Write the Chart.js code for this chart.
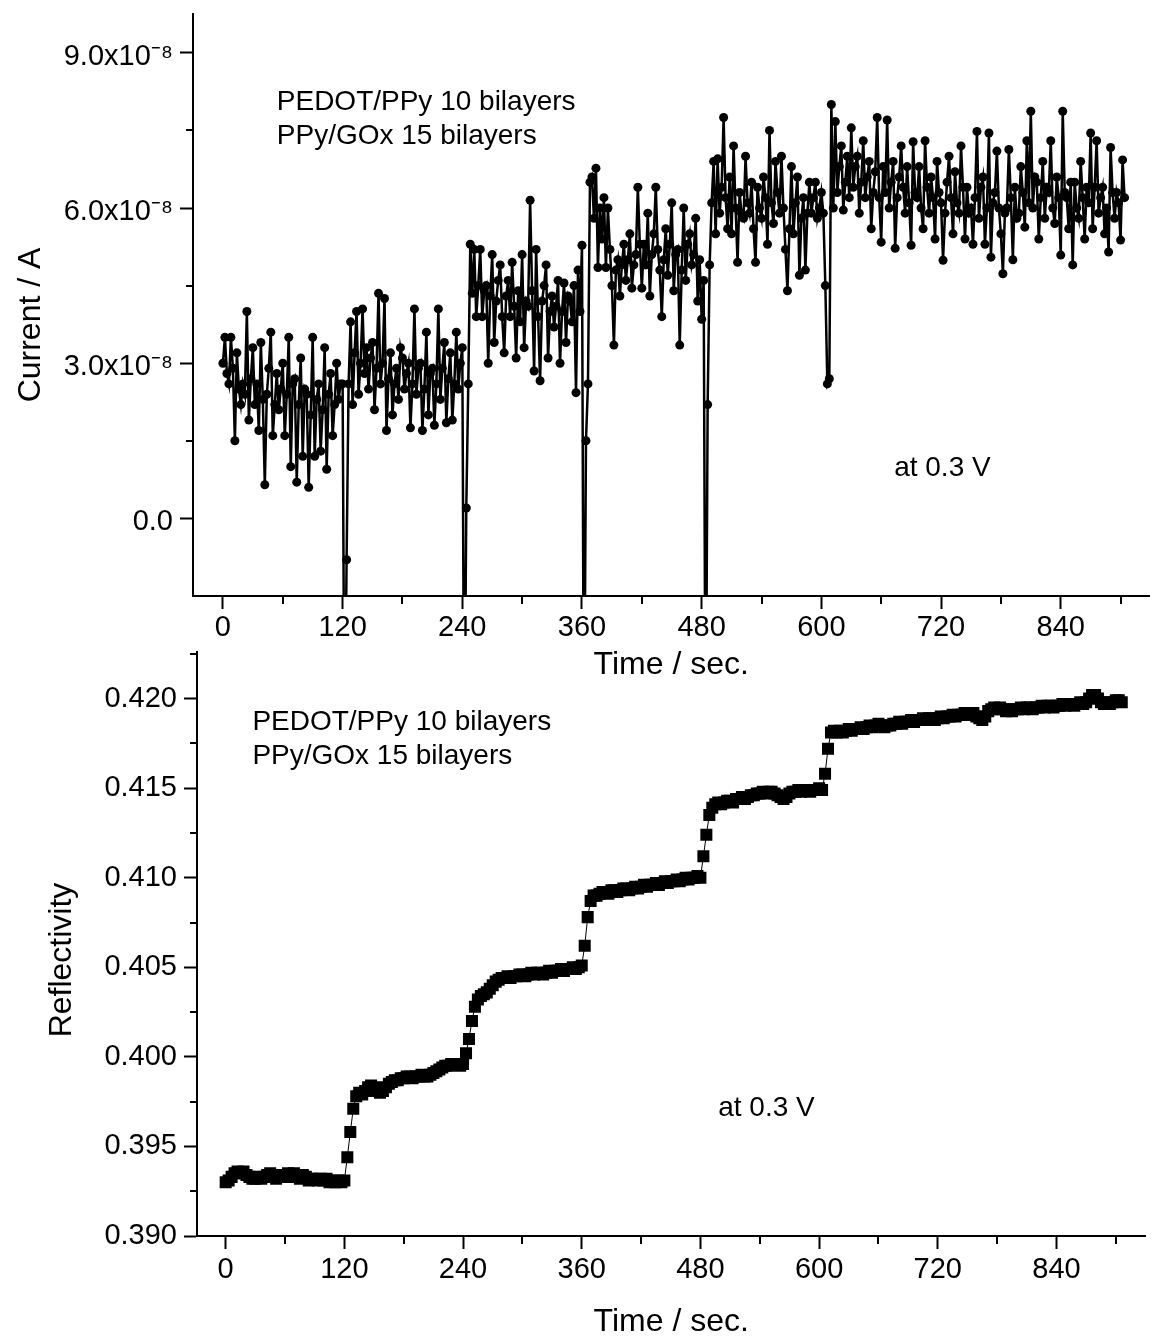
<!DOCTYPE html>
<html lang="en">
<head>
<meta charset="UTF-8">
<title>Current and reflectivity vs time</title>
<style>
body { margin: 0; background: #fff; }
#wrap { position: relative; width: 1154px; height: 1338px; overflow: hidden; }
#wrap canvas { position: absolute; left: 0; }
#currentChart { top: 0; }
#reflChart { top: 640px; }
</style>
</head>
<body>
<div id="wrap">
  <canvas id="currentChart" width="1154" height="700"></canvas>
  <canvas id="reflChart" width="1154" height="698"></canvas>
</div>
<script src="https://cdn.jsdelivr.net/npm/chart.js@4"></script>
<script>
const FONT = '"Liberation Sans", Arial, Helvetica, sans-serif';
const CURRENT_STEP = 2; // s between current readings, first at t = 0
const REFL_STEP = 3;    // s between reflectivity readings, first at t = 0

// current at 0.3 V, in units of 1e-8 A (one row = 30 s)
const currentE8 = [
  3.0, 3.5, 2.8, 2.6, 3.5, 2.9, 1.5, 3.2, 2.5, 2.2, 2.6, 2.4, 4.0, 1.9, 2.7,          // 0 s
  3.3, 2.2, 2.6, 1.7, 3.4, 2.3, 0.65, 2.4, 2.9, 3.6, 1.6, 2.2, 2.8, 2.1, 2.5,         // 30
  3.0, 1.6, 2.4, 3.5, 1.0, 2.6, 2.7, 0.7, 2.2, 3.1, 1.2, 2.5, 2.4, 0.6, 2.0,          // 60
  3.5, 1.2, 2.3, 2.6, 1.3, 2.1, 3.3, 0.95, 2.4, 2.8, 1.6, 2.2, 3.0, 2.3, 2.6,         // 90
  2.6, -5, -0.8, 2.6, 3.8, 2.2, 3.2, 4.0, 2.4, 3.0, 4.05, 2.8, 3.3, 2.5, 3.1,         // 120
  3.4, 2.1, 2.9, 4.35, 2.6, 3.0, 4.25, 1.7, 2.7, 3.2, 2.0, 2.6, 2.9, 2.3, 3.3,        // 150
  3.1, 2.5, 2.8, 3.0, 1.75, 2.6, 4.05, 2.4, 2.9, 3.0, 1.7, 2.5, 3.6, 2.0, 2.8,        // 180
  2.9, 1.8, 2.6, 4.05, 2.3, 2.9, 3.4, 1.85, 2.7, 3.2, 1.9, 2.6, 3.6, 2.5, 3.0,        // 210
  3.3, -5, 0.2, 2.6, 5.3, 4.35, 5.2, 3.9, 4.5, 5.2, 3.9, 4.4, 4.5, 3.0, 4.3,          // 240
  5.1, 3.4, 4.2, 4.6, 4.9, 3.9, 3.2, 4.3, 4.6, 3.9, 4.95, 4.1, 3.1, 4.4, 3.8,        // 270
  5.1, 3.3, 4.2, 4.1, 6.15, 4.4, 2.85, 5.2, 3.9, 2.66, 4.2, 4.5, 4.9, 3.1, 4.0,      // 300
  4.3, 3.7, 4.1, 4.6, 3.0, 4.0, 4.55, 3.4, 4.3, 4.2, 3.8, 4.5, 2.43, 4.8, 4.0,       // 330
  5.28, -5, 1.5, 2.6, 6.5, 6.6, 5.8, 6.77, 4.85, 6.0, 5.4, 6.2, 4.85, 6.0, 5.2,      // 360
  4.5, 3.35, 4.8, 5.0, 4.3, 4.9, 5.3, 4.6, 5.0, 5.5, 4.45, 4.9, 5.1, 6.4, 5.3,       // 390
  4.45, 5.3, 4.9, 5.9, 4.3, 5.1, 5.5, 6.4, 5.2, 4.8, 3.9, 5.0, 5.6, 4.7, 5.3,        // 420
  6.1, 4.4, 5.1, 5.2, 3.35, 4.8, 6.0, 4.6, 5.3, 5.5, 4.9, 5.1, 5.8, 4.2, 5.0,        // 450
  3.85, 4.6, -5, 2.2, 4.9, 6.1, 6.9, 5.5, 6.95, 5.9, 6.4, 7.75, 6.2, 5.6, 6.6,       // 480
  5.5, 7.2, 6.0, 4.95, 6.3, 5.9, 5.8, 7.0, 6.1, 5.9, 6.5, 5.6, 4.95, 6.4, 6.0,       // 510
  5.8, 6.6, 6.2, 5.3, 7.5, 6.1, 5.7, 6.9, 6.3, 5.9, 7.0, 6.0, 5.2, 4.4, 5.6,         // 540
  6.8, 5.5, 6.1, 6.6, 4.7, 5.8, 6.2, 4.8, 5.9, 6.5, 5.9, 6.2, 6.5, 5.8, 6.0,         // 570
  6.3, 5.9, 4.5, 2.6, 2.7, 8.0, 6.0, 7.67, 6.3, 6.8, 7.2, 5.96, 6.5, 7.0, 6.2,       // 600
  7.55, 6.4, 6.8, 7.0, 5.9, 6.5, 7.3, 6.2, 6.6, 6.9, 5.6, 6.3, 6.7, 7.75, 6.2,       // 630
  5.34, 6.8, 6.3, 7.7, 6.0, 6.5, 6.9, 5.22, 6.2, 6.6, 7.2, 6.4, 5.9, 6.8, 6.1,       // 660
  5.28, 7.28, 6.3, 6.2, 6.8, 6.0, 5.6, 7.3, 6.4, 5.9, 6.6, 6.2, 5.4, 6.9, 6.3,       // 690
  6.1, 4.99, 5.9, 6.5, 7.0, 6.2, 5.5, 6.7, 6.1, 5.9, 7.2, 6.4, 5.4, 6.4, 5.9,        // 720
  6.0, 5.3, 6.2, 7.48, 5.8, 6.4, 6.6, 5.3, 6.0, 7.45, 5.05, 6.1, 6.3, 7.1, 6.0,      // 750
  5.5, 4.73, 5.9, 6.0, 7.13, 6.2, 5.0, 6.4, 5.8, 5.9, 6.8, 6.3, 5.63, 7.3, 6.1,      // 780
  7.87, 6.0, 6.6, 6.5, 5.4, 6.2, 6.9, 5.8, 6.4, 6.3, 7.3, 6.0, 5.7, 6.6, 6.2,        // 810
  5.09, 7.87, 6.3, 6.2, 5.6, 6.5, 4.9, 6.5, 6.0, 5.8, 6.9, 6.2, 5.4, 6.4, 6.1,       // 840
  7.45, 5.6, 6.4, 7.3, 5.9, 6.2, 6.4, 5.5, 6.0, 5.15, 7.17, 6.3, 5.8, 6.3, 6.1,      // 870
  5.38, 6.93, 6.2                                                                    // 900
];

// reflectivity (one row = 30 s)
const reflectivity = [
  0.3930, 0.3931, 0.3933, 0.3935, 0.3936, 0.3935, 0.3936, 0.3934, 0.3933, 0.3932, // 0 s
  0.3932, 0.3933, 0.3932, 0.3933, 0.3934, 0.3935, 0.3934, 0.3932, 0.3933, 0.3934, // 30
  0.3933, 0.3935, 0.3934, 0.3935, 0.3933, 0.3932, 0.3934, 0.3933, 0.3931, 0.3932, // 60
  0.3932, 0.3931, 0.3932, 0.3931, 0.3932, 0.3930, 0.3931, 0.3930, 0.3931, 0.3930, // 90
  0.3931, 0.3944, 0.3958, 0.3971, 0.3978, 0.3980, 0.3979, 0.3981, 0.3983, 0.3984, // 120
  0.3983, 0.3981, 0.3980, 0.3981, 0.3983, 0.3985, 0.3986, 0.3987, 0.3987, 0.3988, // 150
  0.3988, 0.3989, 0.3989, 0.3988, 0.3989, 0.3989, 0.3990, 0.3989, 0.3989, 0.3990, // 180
  0.3991, 0.3992, 0.3993, 0.3994, 0.3995, 0.3995, 0.3996, 0.3996, 0.3996, 0.3995, // 210
  0.3996, 0.4002, 0.4010, 0.4020, 0.4028, 0.4032, 0.4034, 0.4035, 0.4036, 0.4038, // 240
  0.4040, 0.4042, 0.4043, 0.4044, 0.4044, 0.4045, 0.4044, 0.4045, 0.4045, 0.4046, // 270
  0.4046, 0.4045, 0.4046, 0.4047, 0.4046, 0.4047, 0.4047, 0.4046, 0.4047, 0.4048, // 300
  0.4047, 0.4048, 0.4048, 0.4049, 0.4048, 0.4049, 0.4049, 0.4050, 0.4049, 0.4050, // 330
  0.4051, 0.4062, 0.4078, 0.4087, 0.4090, 0.4090, 0.4091, 0.4092, 0.4092, 0.4091, // 360
  0.4093, 0.4093, 0.4092, 0.4093, 0.4094, 0.4094, 0.4093, 0.4094, 0.4095, 0.4094, // 390
  0.4095, 0.4096, 0.4095, 0.4096, 0.4096, 0.4097, 0.4096, 0.4097, 0.4098, 0.4097, // 420
  0.4098, 0.4098, 0.4099, 0.4098, 0.4099, 0.4100, 0.4099, 0.4100, 0.4100, 0.4101, // 450
  0.4100, 0.4112, 0.4124, 0.4135, 0.4139, 0.4141, 0.4142, 0.4141, 0.4142, 0.4143, // 480
  0.4143, 0.4142, 0.4144, 0.4144, 0.4145, 0.4144, 0.4145, 0.4146, 0.4146, 0.4147, // 510
  0.4147, 0.4148, 0.4147, 0.4148, 0.4148, 0.4147, 0.4146, 0.4145, 0.4144, 0.4145, // 540
  0.4147, 0.4148, 0.4148, 0.4149, 0.4148, 0.4149, 0.4149, 0.4148, 0.4149, 0.4149, // 570
  0.4150, 0.4149, 0.4158, 0.4172, 0.4181, 0.4182, 0.4181, 0.4182, 0.4181, 0.4182, // 600
  0.4183, 0.4182, 0.4183, 0.4183, 0.4184, 0.4183, 0.4184, 0.4185, 0.4184, 0.4185, // 630
  0.4186, 0.4185, 0.4184, 0.4185, 0.4185, 0.4186, 0.4186, 0.4187, 0.4186, 0.4187, // 660
  0.4187, 0.4188, 0.4187, 0.4188, 0.4188, 0.4189, 0.4188, 0.4189, 0.4189, 0.4188, // 690
  0.4189, 0.4190, 0.4189, 0.4190, 0.4190, 0.4191, 0.4190, 0.4191, 0.4191, 0.4192, // 720
  0.4191, 0.4191, 0.4192, 0.4190, 0.4189, 0.4188, 0.4190, 0.4193, 0.4194, 0.4195, // 750
  0.4194, 0.4195, 0.4194, 0.4193, 0.4194, 0.4193, 0.4194, 0.4194, 0.4195, 0.4194, // 780
  0.4195, 0.4195, 0.4194, 0.4195, 0.4195, 0.4196, 0.4195, 0.4196, 0.4196, 0.4195, // 810
  0.4196, 0.4196, 0.4197, 0.4196, 0.4197, 0.4197, 0.4196, 0.4197, 0.4198, 0.4197, // 840
  0.4198, 0.4200, 0.4202, 0.4202, 0.4200, 0.4198, 0.4197, 0.4198, 0.4197, 0.4198, // 870
  0.4199, 0.4199, 0.4198                                                          // 900
];

const timeTickEvery = 60;        // minor ticks
const timeLabelEvery = 120;      // labelled ticks
const currentLabelEvery = 3;     // x 1e-8 A, minor every 1.5
const noteTop = ['PEDOT/PPy 10 bilayers', 'PPy/GOx 15 bilayers'];
const noteVoltage = ['at 0.3 V'];

function timeLabel(v) {
    return v % timeLabelEvery === 0 ? String(v) : '';
}
function currentLabel(v) {
    if (Math.abs(v % currentLabelEvery) > 1e-9) return '';
    return v === 0 ? '0.0' : v.toFixed(1) + 'x10\u207B\u2078';
}
function reflLabel(v) {
    return Math.round(v * 10000) % 50 === 0 ? v.toFixed(3) : '';
}

// minor ticks, notes and axis titles
function extras(cfg) {
    return {
        id: 'extras',
        afterDraw(chart) {
            const ctx = chart.ctx;
            const area = chart.chartArea;
            const xs = chart.scales.x, ys = chart.scales.y;
            ctx.save();
            ctx.strokeStyle = '#000';
            ctx.lineWidth = 2;
            ctx.beginPath();
            xs.ticks.forEach(t => {
                if (cfg.xLabel(t.value) !== '') return;
                const px = Math.round(xs.getPixelForValue(t.value));
                ctx.moveTo(px, area.bottom);
                ctx.lineTo(px, area.bottom + 8);
            });
            ys.ticks.forEach(t => {
                if (cfg.yLabel(t.value) !== '') return;
                const py = Math.round(ys.getPixelForValue(t.value));
                if (py > area.bottom - 2 || py < area.top + 2) return;
                ctx.moveTo(area.left, py);
                ctx.lineTo(area.left - 7, py);
            });
            ctx.stroke();

            ctx.fillStyle = '#000';
            ctx.font = '28px ' + FONT;
            ctx.textAlign = 'left';
            ctx.textBaseline = 'middle';
            cfg.notes.forEach(n => {
                const x0 = xs.getPixelForValue(n.x);
                const y0 = ys.getPixelForValue(n.y);
                n.lines.forEach((line, k) => ctx.fillText(line, x0, y0 + k * 34));
            });

            ctx.font = '32px ' + FONT;
            ctx.textAlign = 'center';
            ctx.fillText(cfg.xTitle, (area.left + area.right) / 2, area.bottom + cfg.xTitleGap);
            ctx.translate(cfg.yTitleX, (area.top + area.bottom) / 2 + cfg.yTitleShift);
            ctx.rotate(-Math.PI / 2);
            ctx.fillText(cfg.yTitle, 0, 0);
            ctx.restore();
        }
    };
}

function axes(c) {
    return {
        x: {
            type: 'linear', min: c.xMin, max: c.xMax,
            border: { color: '#000', width: 2 },
            grid: {
                drawOnChartArea: false, tickLength: 13, tickWidth: 2,
                tickColor: ctx => (ctx.tick && timeLabel(ctx.tick.value)) ? '#000' : 'rgba(0,0,0,0)'
            },
            ticks: {
                autoSkip: false, maxRotation: 0,
                padding: c.xPad, color: '#000', font: { size: 29 }, callback: timeLabel
            },
            // ticks every 60 s starting from 0, not from the axis minimum
            afterBuildTicks: s => {
                const t = [];
                for (let v = Math.ceil(s.min / timeTickEvery) * timeTickEvery; v <= s.max; v += timeTickEvery) t.push({ value: v });
                s.ticks = t;
            },
            afterFit: s => { s.height = c.xHeight; s.paddingLeft = 0; s.paddingRight = 0; }
        },
        y: {
            type: 'linear', min: c.yMin, max: c.yMax,
            border: { color: '#000', width: 2 },
            grid: {
                drawOnChartArea: false, tickLength: 13, tickWidth: 2,
                tickColor: ctx => (ctx.tick && c.yLabel(ctx.tick.value)) ? '#000' : 'rgba(0,0,0,0)'
            },
            ticks: {
                stepSize: c.yStep, includeBounds: false, autoSkip: false,
                padding: 7, labelOffset: c.yLabelOffset, color: '#000', font: { size: 29 },
                callback: c.yLabel
            },
            afterFit: s => { s.width = c.yWidth; s.paddingTop = 0; s.paddingBottom = 0; }
        }
    };
}

Chart.defaults.font.family = FONT;
Chart.defaults.color = '#000';

new Chart(document.getElementById('currentChart'), {
    type: 'line',
    data: {
        datasets: [{
            data: currentE8.map((v, i) => ({ x: i * CURRENT_STEP, y: v })),
            borderColor: '#000',
            borderWidth: 2.5,
            pointRadius: 4.5,
            pointBackgroundColor: '#000',
            pointBorderWidth: 0,
            tension: 0,
            clip: 0
        }]
    },
    options: {
        responsive: false, animation: false, devicePixelRatio: 1, events: [],
        layout: { padding: { top: 14, right: 3, left: 0, bottom: 0 } },
        plugins: { legend: { display: false }, tooltip: { enabled: false } },
        scales: axes({
            xMin: -30, xMax: 929, xPad: 2, xHeight: 104,
            yMin: -1.5, yMax: 9.75, yStep: 1.5, yLabel: currentLabel, yLabelOffset: 4, yWidth: 193
        })
    },
    plugins: [extras({
        xLabel: timeLabel, yLabel: currentLabel,
        notes: [{ x: 54, y: 8.04, lines: noteTop }, { x: 673, y: 0.97, lines: noteVoltage }],
        xTitle: 'Time / sec.', xTitleGap: 69,
        yTitle: 'Current / A', yTitleX: 31, yTitleShift: 20
    })]
});

new Chart(document.getElementById('reflChart'), {
    type: 'line',
    data: {
        datasets: [{
            data: reflectivity.map((v, i) => ({ x: i * REFL_STEP, y: v })),
            borderColor: '#000',
            borderWidth: 1,
            pointStyle: 'rect',
            pointRadius: 8.5,
            pointBackgroundColor: '#000',
            pointBorderWidth: 0,
            tension: 0,
            clip: 0
        }]
    },
    options: {
        responsive: false, animation: false, devicePixelRatio: 1, events: [],
        layout: { padding: { top: 12, right: 3, left: 0, bottom: 0 } },
        plugins: { legend: { display: false }, tooltip: { enabled: false } },
        scales: axes({
            xMin: -29, xMax: 930, xPad: 4, xHeight: 102,
            yMin: 0.390, yMax: 0.4226, yStep: 0.0025, yLabel: reflLabel, yLabelOffset: 0, yWidth: 197
        })
    },
    plugins: [extras({
        xLabel: timeLabel, yLabel: reflLabel,
        notes: [{ x: 27, y: 0.41867, lines: noteTop }, { x: 498, y: 0.39711, lines: noteVoltage }],
        xTitle: 'Time / sec.', xTitleGap: 86,
        yTitle: 'Reflectivity', yTitleX: 62, yTitleShift: 16
    })]
});
</script>
</body>
</html>
